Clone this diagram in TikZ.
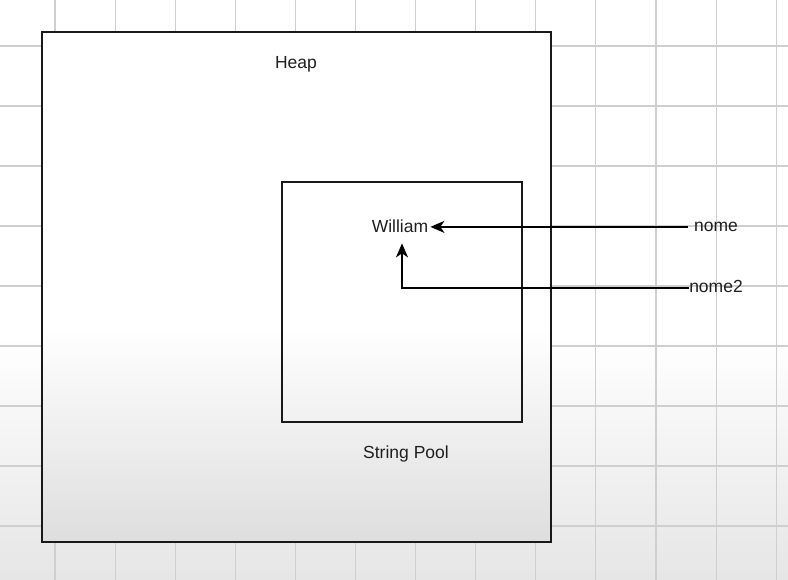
\documentclass[tikz,border=0pt]{standalone}
\usepackage{fontspec}
\setmainfont{Liberation Sans}
\usetikzlibrary{arrows.meta}
\pgfdeclareverticalshading{bgshade}{100bp}{color(0bp)=(gray!20); color(25bp)=(gray!20); color(46bp)=(white); color(100bp)=(white)}
\pgfdeclareverticalshading{heapshade}{100bp}{color(0bp)=(gray!26); color(25bp)=(gray!26); color(46bp)=(white); color(100bp)=(white)}
\tikzset{
  lbl/.style={font=\fontsize{17.5}{20}\selectfont, text=black!88, inner sep=0pt},
  box/.style={draw=black!90, line width=1.4pt},
  gridline/.style={draw=gray!38, line width=1.1pt},
  arr/.style={draw=black, line width=1.6pt, -{Stealth[length=14pt,width=12pt,inset=4pt]}},
}
\begin{document}
\begin{tikzpicture}[x=1pt,y=-1pt]
\useasboundingbox (0,0) rectangle (788,580);
\shade[shading=bgshade] (0,0) rectangle (788,580);
% grid
\foreach \i in {0,...,12} {\draw[gridline] ({55+60.1*\i},0) -- ({55+60.1*\i},580);}
\foreach \j in {0,...,8} {\draw[gridline] (0,{46+60*\j}) -- (788,{46+60*\j});}
% heap box
\shade[shading=heapshade] (42,32) rectangle (551,542);
\draw[box] (42,32) rectangle (551,542);
% string pool box
\draw[box] (282,182) rectangle (522,422);
% labels
\node[lbl, anchor=base] (heap) at (296,69) {Heap};
\node[lbl, anchor=base] (pool) at (406,458) {String Pool};
\node[lbl, anchor=base, inner xsep=2pt, inner ysep=10pt] (william) at (400,233) {William};
\node[lbl, anchor=base, inner xsep=6pt] (nome) at (716,231.5) {nome};
\node[lbl, anchor=base, inner xsep=0.5pt] (nome2) at (716,293) {nome2};
\coordinate (corner) at (402,288);
% arrows
\draw[arr] (nome.west) -- (nome.west -| william.east);
\draw[arr] (nome2.west |- corner) -- (corner) -- (corner |- william.south);
\end{tikzpicture}
\end{document}
